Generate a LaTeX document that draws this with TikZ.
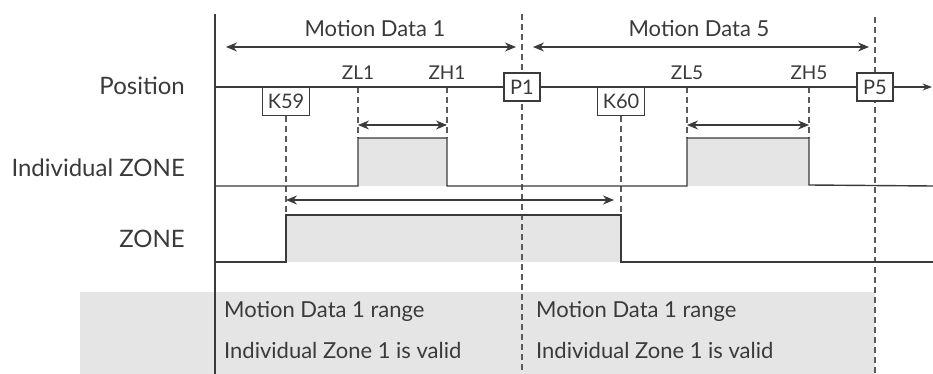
\documentclass[tikz,border=0pt]{standalone}
\usepackage{fontspec}
\setmainfont{Lato}
\usetikzlibrary{positioning,arrows.meta}
\definecolor{linegray}{HTML}{3A3A3A}
\definecolor{guidegray}{HTML}{5A5A5A}
\definecolor{zonefill}{HTML}{E5E5E5}
\tikzset{
  sig/.style={draw=linegray, line width=1.4pt},
  guide/.style={draw=guidegray, line width=1.1pt, dash pattern=on 6pt off 4pt},
  span/.style={draw=linegray, line width=1.2pt, {Stealth[length=11pt,width=9pt]}-{Stealth[length=11pt,width=9pt]}},
  markbox/.style={draw=linegray, fill=white, line width=1.1pt, inner xsep=5pt, minimum height=28pt, font=\fontsize{20}{24}\selectfont},
  rowlabel/.style={anchor=east, inner sep=0pt, font=\fontsize{24}{28}\selectfont},
  ticklabel/.style={anchor=base, yshift=7pt, inner sep=0pt, font=\fontsize{19}{22}\selectfont},
  spanlabel/.style={anchor=base, yshift=10pt, inner sep=0pt, font=\fontsize{22}{26}\selectfont},
  rangetext/.style={anchor=west, inner sep=0pt, font=\fontsize{22}{26}\selectfont}
}
\begin{document}
\begin{tikzpicture}[x=1pt, y=-1pt, >=Stealth, text=linegray, line join=miter, line cap=butt]
  \def\ypos{87} \def\yilo{186} \def\yihi{138} \def\yzlo{262} \def\yzhi{215}
  \useasboundingbox (0,0) rectangle (933,374);
  % result band
  \fill[zonefill] (80,292) rectangle (875,374);
  \node[rangetext] (r1a) at (224,311) {Motion Data 1 range};
  \node[rangetext] (r1b) at (224,350) {Individual Zone 1 is valid};
  \node[rangetext] (r5a) at (536,311) {Motion Data 1 range};
  \node[rangetext] (r5b) at (536,350) {Individual Zone 1 is valid};
  % row labels
  \node[rowlabel] (lpos) at (185,86) {Position};
  \node[rowlabel] (lind) at (185,168) {Individual ZONE};
  \node[rowlabel] (lzone) at (185,239) {ZONE};
  % time points on the position axis
  \coordinate (zl1) at (358,\ypos);
  \coordinate (zh1) at (447,\ypos);
  \coordinate (zl5) at (687,\ypos);
  \coordinate (zh5) at (809,\ypos);
  \coordinate (top1) at (522,14);
  \coordinate (top5) at (875,17);
  % signal fills
  \fill[zonefill] (zl1 |- 0,\yihi) rectangle (zh1 |- 0,\yilo);
  \fill[zonefill] (zl5 |- 0,\yihi) rectangle (zh5 |- 0,\yilo);
  \fill[zonefill] (286,\yzhi) rectangle (621,\yzlo);
  % guides
  \draw[guide] (top1) -- (top1 |- 0,374);
  \draw[guide] (top5) -- (top5 |- 0,374);
  \draw[guide] (zl1) -- (zl1 |- 0,\yihi);
  \draw[guide] (zh1) -- (zh1 |- 0,\yihi);
  \draw[guide] (zl5) -- (zl5 |- 0,\yihi);
  \draw[guide] (zh5) -- (zh5 |- 0,\yihi);
  % axes
  \coordinate (ax0) at (215,14);
  \draw[sig] (ax0) -- (ax0 |- 0,374);
  \draw[sig,->] (ax0 |- 0,\ypos) -- (932,\ypos);
  % marker boxes
  \node[markbox, minimum width=36pt] (p1) at (top1 |- 0,\ypos) {P1};
  \node[markbox, minimum width=36pt] (p5) at (top5 |- 0,\ypos) {P5};
  \node[markbox, minimum width=47pt, anchor=north] (k59) at (286,\ypos) {K59};
  \node[markbox, minimum width=47pt, anchor=north] (k60) at (621,\ypos) {K60};
  \draw[guide] (k59.south) -- (k59.south |- 0,\yzhi);
  \draw[guide] (k60.south) -- (k60.south |- 0,\yzhi);
  % tick labels
  \node[ticklabel] (tzl1) at (zl1) {ZL1};
  \node[ticklabel] (tzh1) at (zh1) {ZH1};
  \node[ticklabel] (tzl5) at (zl5) {ZL5};
  \node[ticklabel] (tzh5) at (zh5) {ZH5};
  % motion data spans
  \coordinate (md1a) at (226,47); \coordinate (md1b) at (516,47);
  \coordinate (md5a) at (533,47); \coordinate (md5b) at (869,47);
  \draw[span] (md1a) -- (md1b);
  \draw[span] (md5a) -- (md5b);
  \node[spanlabel] (tmd1) at (375,47) {Motion Data 1};
  \node[spanlabel] (tmd5) at (699,47) {Motion Data 5};
  % zone widths
  \draw[span] (zl1 |- 0,125) -- (zh1 |- 0,125);
  \draw[span] (zl5 |- 0,125) -- (zh5 |- 0,125);
  \draw[span] (k59.south |- 0,200) -- ([xshift=-7pt]k60.south |- 0,200);
  % signals
  \draw[sig] (ax0 |- 0,\yilo) -- (zl1 |- 0,\yilo) -- (zl1 |- 0,\yihi) -- (zh1 |- 0,\yihi)
    -- (zh1 |- 0,\yilo) -- (zl5 |- 0,\yilo) -- (zl5 |- 0,\yihi) -- (zh5 |- 0,\yihi)
    -- (zh5 |- 0,185) -- (933,186);
  \draw[sig] (ax0 |- 0,\yzlo) -- (k59.south |- 0,\yzlo) -- (k59.south |- 0,\yzhi)
    -- (k60.south |- 0,\yzhi) -- (k60.south |- 0,\yzlo) -- (933,\yzlo);
\end{tikzpicture}
\end{document}
